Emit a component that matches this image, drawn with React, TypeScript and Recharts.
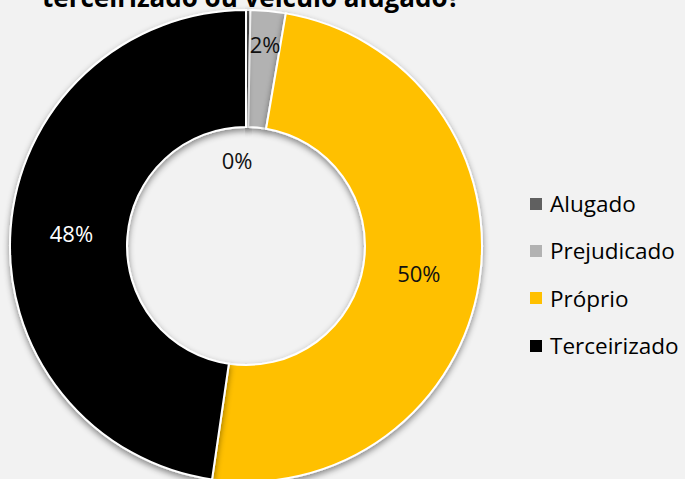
import React from 'react';
import { PieChart, Pie, Cell, Legend } from 'recharts';

const categories = ['Alugado', 'Prejudicado', 'Próprio', 'Terceirizado'];
const values = [0.3, 2.4, 49.6, 47.7];
const labels = ['0%', '2%', '50%', '48%'];
const colors = ['#606060', '#b2b2b2', '#ffc000', '#000000'];
const labelColors = ['#111111', '#111111', '#111111', '#ffffff'];
const titleLine = 'terceirizado ou veículo alugado?';

const data = categories.map((name, i) => ({ name, value: values[i], label: labels[i] }));

const FONT = '"Open Sans", "Noto Sans", sans-serif';
const RAD = Math.PI / 180;

const renderLabel = (props: any) => {
  const { cx, cy, midAngle, index } = props;
  let r = 175;
  let ang = midAngle;
  if (index === 0) { r = 86; ang = 96; }
  if (index === 1) { r = 203; }
  const x = cx + r * Math.cos(-ang * RAD);
  const y = cy + r * Math.sin(-ang * RAD);
  return (
    <text x={x} y={y} fill={labelColors[index]} textAnchor="middle" dominantBaseline="central"
      style={{ fontFamily: FONT, fontSize: 22 }}>
      {data[index].label}
    </text>
  );
};

const renderLegend = () => (
  <div style={{ fontFamily: FONT, fontSize: 22.5, color: '#000' }}>
    {categories.map((c, i) => (
      <div key={c} style={{ display: 'flex', alignItems: 'center', height: 47.3 }}>
        <span style={{ display: 'inline-block', width: 12, height: 12, background: colors[i], marginRight: 8 }} />
        <span>{c}</span>
      </div>
    ))}
  </div>
);

export default function App() {
  return (
    <div style={{ position: 'absolute', left: 0, top: 0, width: 685, height: 479, background: '#f2f2f2', overflow: 'hidden' }}>
      <svg width={0} height={0} style={{ position: 'absolute' }}>
        <defs>
          <filter id="sh" x="-20%" y="-20%" width="140%" height="140%">
            <feDropShadow dx="0" dy="3" stdDeviation="3" floodColor="#000" floodOpacity="0.45" />
          </filter>
        </defs>
      </svg>
      <PieChart width={685} height={479} margin={{ top: 0, right: 0, bottom: 0, left: 0 }}>
        <Pie
          data={data}
          dataKey="value"
          nameKey="name"
          cx={246}
          cy={246}
          innerRadius={119}
          outerRadius={236}
          startAngle={90}
          endAngle={-270}
          stroke="#ffffff"
          strokeWidth={2}
          label={renderLabel}
          labelLine={false}
          isAnimationActive={false}
        >
          {data.map((d, i) => (
            <Cell key={d.name} fill={colors[i]} filter="url(#sh)" />
          ))}
        </Pie>
        <Legend content={renderLegend} layout="vertical" wrapperStyle={{ position: 'absolute', left: 530, top: 180, width: 160 }} />
      </PieChart>
      <svg width={685} height={40} style={{ position: 'absolute', left: 0, top: 0, pointerEvents: 'none' }}>
        <text x={251} y={7} textAnchor="middle" style={{ fontFamily: FONT, fontSize: 26, fontWeight: 700 }} fill="#000">
          {titleLine}
        </text>
      </svg>
    </div>
  );
}
